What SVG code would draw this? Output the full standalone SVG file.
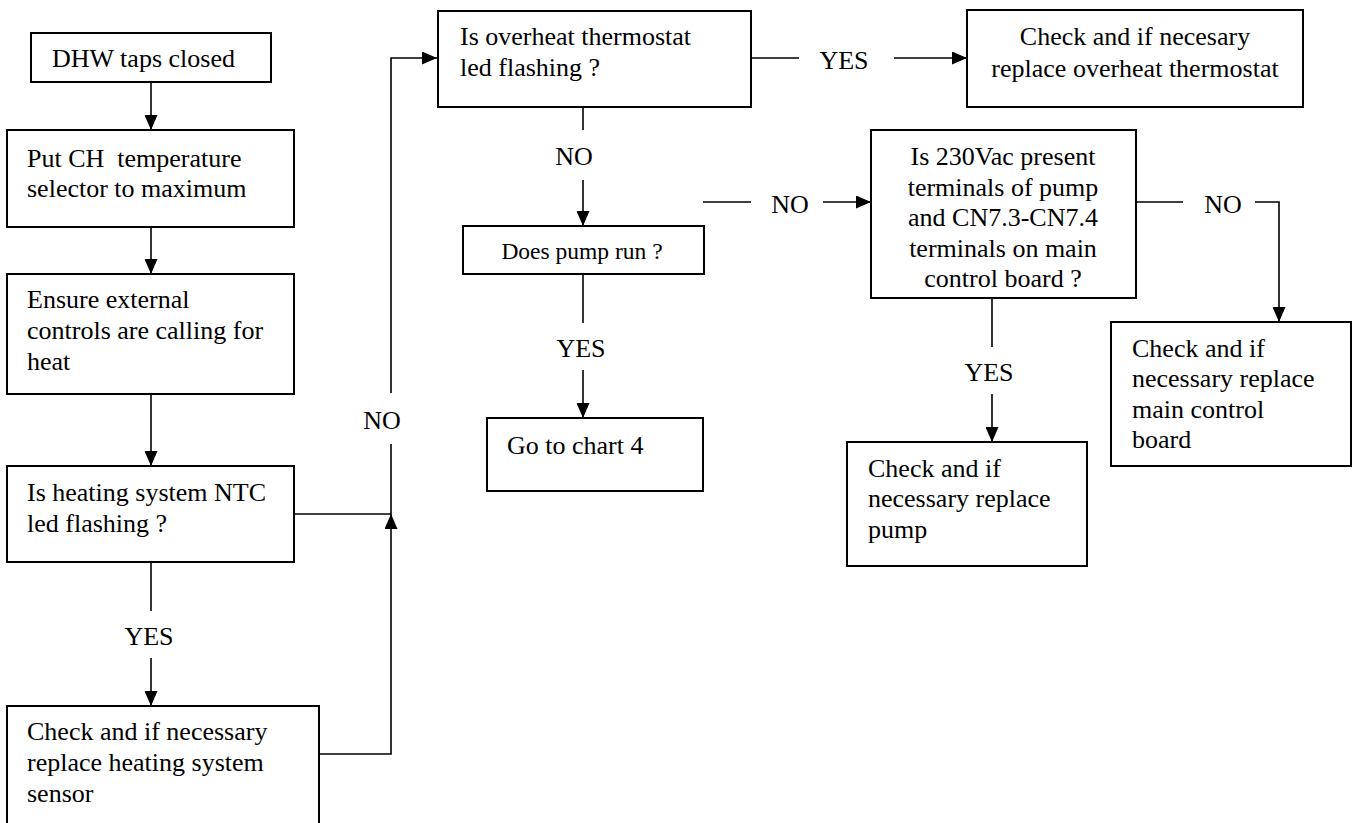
<svg xmlns="http://www.w3.org/2000/svg" width="1358" height="823" viewBox="0 0 1358 823">
<style>
.box{fill:#fff;stroke:#000;stroke-width:2}
.ln{fill:none;stroke:#000;stroke-width:1.6}
.arr{marker-end:url(#ah)}
.c{text-anchor:middle}
.sm{font-size:23.5px}
</style>
<defs>
<marker id="ah" viewBox="0 0 15 13" refX="15" refY="6.5" markerWidth="15" markerHeight="13" markerUnits="userSpaceOnUse" orient="auto">
<path d="M0,0 L15,6.5 L0,13 z" fill="#000"/>
</marker>
</defs>
<rect width="1358" height="823" fill="#fff"/>
<g font-family="'Liberation Serif', Tinos, 'Times New Roman', 'DejaVu Serif', serif" font-size="26" fill="#000">
<g id="connectors">
<line class="ln arr" x1="151" y1="82" x2="151" y2="130"/>
<line class="ln arr" x1="151" y1="227" x2="151" y2="274"/>
<line class="ln arr" x1="151" y1="394" x2="151" y2="466"/>
<line class="ln" x1="151" y1="562" x2="151" y2="611"/>
<text class="c" x="149" y="645">YES</text>
<line class="ln arr" x1="151" y1="658" x2="151" y2="706"/>
<line class="ln" x1="294" y1="514" x2="391" y2="514"/>
<polyline class="ln arr" points="319,754 391,754 391,514"/>
<line class="ln" x1="391" y1="514" x2="391" y2="444"/>
<text class="c" x="382" y="429">NO</text>
<polyline class="ln arr" points="391,393 391,58 437,58"/>
<line class="ln" x1="751" y1="58" x2="799" y2="58"/>
<text class="c" x="844" y="69">YES</text>
<line class="ln arr" x1="894" y1="58" x2="967" y2="58"/>
<line class="ln" x1="583" y1="107" x2="583" y2="130"/>
<text class="c" x="574" y="165">NO</text>
<line class="ln arr" x1="583" y1="180" x2="583" y2="226"/>
<line class="ln" x1="583" y1="274" x2="583" y2="323"/>
<text class="c" x="581" y="357">YES</text>
<line class="ln arr" x1="583" y1="370" x2="583" y2="418"/>
<line class="ln" x1="703" y1="202" x2="751" y2="202"/>
<text class="c" x="790" y="213">NO</text>
<line class="ln arr" x1="823" y1="202" x2="871" y2="202"/>
<line class="ln" x1="1136" y1="202" x2="1183" y2="202"/>
<text class="c" x="1223" y="213">NO</text>
<polyline class="ln arr" points="1255,202 1279,202 1279,322"/>
<line class="ln" x1="992" y1="298" x2="992" y2="347"/>
<text class="c" x="989" y="381">YES</text>
<line class="ln arr" x1="992" y1="394" x2="992" y2="442"/>
</g>

<g id="n-dhw">
<rect class="box" x="31" y="33" width="240" height="49"/>
<text x="52" y="67">DHW taps closed</text>
</g>
<g id="n-put-ch">
<rect class="box" x="7" y="130" width="287" height="97"/>
<text x="27" y="167" xml:space="preserve" style="white-space:pre">Put CH  temperature</text>
<text x="27" y="197">selector to maximum</text>
</g>
<g id="n-ensure">
<rect class="box" x="7" y="274" width="287" height="120"/>
<text x="27" y="308">Ensure external</text>
<text x="27" y="339">controls are calling for</text>
<text x="27" y="370">heat</text>
</g>
<g id="n-ntc">
<rect class="box" x="7" y="466" width="287" height="96"/>
<text x="27" y="501">Is heating system NTC</text>
<text x="27" y="532">led flashing ?</text>
</g>
<g id="n-replace-sensor">
<path class="box" d="M7,830 L7,706 L319,706 L319,830"/>
<text x="27" y="740">Check and if necessary</text>
<text x="27" y="771">replace heating system</text>
<text x="27" y="802">sensor</text>
</g>
<g id="n-overheat">
<rect class="box" x="438" y="11" width="313" height="96"/>
<text x="460" y="45">Is overheat thermostat</text>
<text x="460" y="76">led flashing ?</text>
</g>
<g id="n-replace-overheat">
<rect class="box" x="967" y="10" width="336" height="97"/>
<text class="c" x="1135" y="45">Check and if necesary</text>
<text class="c" x="1135" y="77">replace overheat thermostat</text>
</g>
<g id="n-pump-run">
<rect class="box" x="463" y="226" width="241" height="48"/>
<text class="c sm" x="582" y="259">Does pump run ?</text>
</g>
<g id="n-chart4">
<rect class="box" x="487" y="418" width="216" height="73"/>
<text x="507" y="454">Go to chart 4</text>
</g>
<g id="n-230vac">
<rect class="box" x="871" y="130" width="265" height="168"/>
<text class="c" x="1003" y="165">Is 230Vac present</text>
<text class="c" x="1003" y="196">terminals of pump</text>
<text class="c" x="1003" y="226">and CN7.3-CN7.4</text>
<text class="c" x="1003" y="257">terminals on main</text>
<text class="c" x="1003" y="287">control board ?</text>
</g>
<g id="n-replace-pump">
<rect class="box" x="847" y="442" width="240" height="124"/>
<text x="868" y="477">Check and if</text>
<text x="868" y="507">necessary replace</text>
<text x="868" y="538">pump</text>
</g>
<g id="n-replace-board">
<rect class="box" x="1111" y="322" width="240" height="144"/>
<text x="1132" y="357">Check and if</text>
<text x="1132" y="387">necessary replace</text>
<text x="1132" y="418">main control</text>
<text x="1132" y="448">board</text>
</g>
</g>
</svg>
